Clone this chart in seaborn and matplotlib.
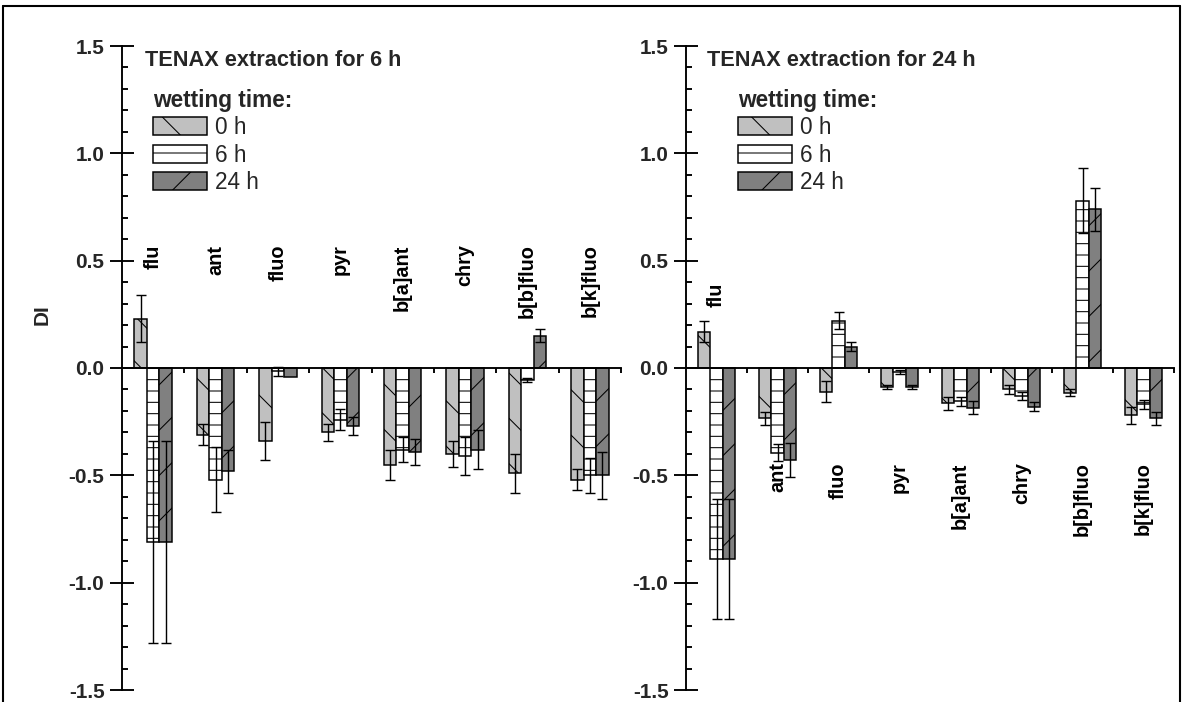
import numpy as np
import pandas as pd
import matplotlib
matplotlib.use("Agg")
import matplotlib.pyplot as plt
import seaborn as sns
from matplotlib.ticker import MultipleLocator, FuncFormatter, NullFormatter
from matplotlib.patches import Patch
from matplotlib.lines import Line2D
from matplotlib.container import BarContainer

# ---- data -------------------------------------------------------------
compounds = ["flu", "ant", "fluo", "pyr", "b[a]ant", "chry", "b[b]fluo", "b[k]fluo"]
wetting = ["0 h", "6 h", "24 h"]

# TENAX extraction for 6 h: DI and error per wetting time
di_6h_w0 = [0.23, -0.31, -0.34, -0.30, -0.45, -0.40, -0.49, -0.52]
di_6h_w6 = [-0.81, -0.52, -0.015, -0.24, -0.38, -0.41, -0.055, -0.50]
di_6h_w24 = [-0.81, -0.48, -0.04, -0.27, -0.39, -0.38, 0.15, -0.50]
err_6h_w0 = [0.11, 0.05, 0.09, 0.04, 0.07, 0.06, 0.09, 0.05]
err_6h_w6 = [0.47, 0.15, 0.02, 0.05, 0.06, 0.09, 0.01, 0.08]
err_6h_w24 = [0.47, 0.10, 0.0, 0.04, 0.06, 0.09, 0.03, 0.11]

# TENAX extraction for 24 h
di_24h_w0 = [0.17, -0.235, -0.11, -0.09, -0.165, -0.10, -0.115, -0.22]
di_24h_w6 = [-0.89, -0.395, 0.22, -0.02, -0.155, -0.13, 0.78, -0.17]
di_24h_w24 = [-0.89, -0.43, 0.10, -0.09, -0.185, -0.18, 0.74, -0.235]
err_24h_w0 = [0.05, 0.03, 0.05, 0.01, 0.03, 0.02, 0.015, 0.04]
err_24h_w6 = [0.28, 0.04, 0.04, 0.01, 0.02, 0.02, 0.15, 0.02]
err_24h_w24 = [0.28, 0.08, 0.02, 0.01, 0.03, 0.02, 0.10, 0.03]

panel_titles = ["TENAX extraction for 6 h", "TENAX extraction for 24 h"]

# ---- style ------------------------------------------------------------
DPI = 136
W, H = 1183, 702
sns.set_theme(style="white")
plt.rcParams["font.family"] = ["Liberation Sans", "DejaVu Sans"]
plt.rcParams["hatch.linewidth"] = 0.55
plt.rcParams["axes.unicode_minus"] = False

fills = ["#c0c0c0", "#ffffff", "#808080"]
hatches = ["\\", "--", "/"]

fig = plt.figure(figsize=(W / DPI, H / DPI), dpi=DPI)
fig.patch.set_facecolor("white")


def fx(px):
    return px / W


def fy(py):
    return 1 - py / H


ax_left = fig.add_axes([fx(122), fy(690), fx(621) - fx(122), fy(46) - fy(690)])
ax_right = fig.add_axes([fx(686), fy(690), fx(1174) - fx(686), fy(46) - fy(690)])

panels = [
    (ax_left, [di_6h_w0, di_6h_w6, di_6h_w24], [err_6h_w0, err_6h_w6, err_6h_w24],
     122, 499, 145, 153),
    (ax_right, [di_24h_w0, di_24h_w6, di_24h_w24], [err_24h_w0, err_24h_w6, err_24h_w24],
     686, 488, 707, 738),
]

for k, (ax, vals, errs, ax_x0, ax_w, title_px, legend_px) in enumerate(panels):
    df = pd.DataFrame({
        "compound": compounds * 3,
        "wetting": np.repeat(wetting, len(compounds)),
        "DI": np.concatenate(vals),
    })
    sns.barplot(data=df, x="compound", y="DI", hue="wetting",
                order=compounds, hue_order=wetting, palette=fills,
                width=0.6, errorbar=None, saturation=1, legend=False,
                edgecolor="black", linewidth=0.8, ax=ax)

    bar_groups = [c for c in ax.containers if isinstance(c, BarContainer)]
    for i, cont in enumerate(bar_groups):
        xs, ys, es = [], [], []
        for j, bar in enumerate(cont.patches):
            bar.set_hatch(hatches[i])
            bar.set_zorder(2)
            if errs[i][j] > 0:
                xs.append(bar.get_x() + bar.get_width() / 2)
                ys.append(vals[i][j])
                es.append(errs[i][j])
        ax.errorbar(xs, ys, yerr=es, fmt="none", ecolor="black",
                    elinewidth=0.75, capsize=2.6, capthick=0.75, zorder=3)

    ax.set_xlim(-0.5, len(compounds) - 0.5)
    ax.set_ylim(-1.5, 1.5)
    ax.set_facecolor("none")

    # axes: y spine at left, x spine through zero
    for s in ["top", "right"]:
        ax.spines[s].set_visible(False)
    ax.spines["bottom"].set_position(("data", 0))
    for s in ["left", "bottom"]:
        ax.spines[s].set_linewidth(1.0)
        ax.spines[s].set_color("black")
        ax.spines[s].set_zorder(4)

    ax.set_xticks(np.arange(0.5, len(compounds), 1.0))
    ax.xaxis.set_major_formatter(NullFormatter())
    ax.tick_params(axis="x", direction="out", length=2.8, width=1.0, color="black",
                   bottom=True)
    ax.yaxis.set_major_locator(MultipleLocator(0.5))
    ax.yaxis.set_minor_locator(MultipleLocator(0.1))
    ax.yaxis.set_major_formatter(
        FuncFormatter(lambda v, p: "0.0" if abs(v) < 1e-9 else f"{v:.1f}"))
    ax.tick_params(axis="y", which="major", direction="inout", length=12.2, width=1.0,
                   pad=3.2, labelsize=11, color="black", left=True)
    ax.tick_params(axis="y", which="minor", direction="in", length=3.2, width=1.0,
                   color="black", left=True)
    for lab in ax.get_yticklabels():
        lab.set_fontweight("bold")
    ax.set_xlabel("")
    ax.set_ylabel("")

    # compound names
    for j, name in enumerate(compounds):
        if k == 0:
            y_top = 0.575
        else:
            y_top = 0.40 if j == 0 else -0.44
        ax.text(j, y_top, name, rotation=90, ha="center", va="top",
                fontsize=10.5, fontweight="bold", color="black")

    # panel heading
    ax.text((title_px - ax_x0) / ax_w, (690 - 60.5) / 644, panel_titles[k],
            transform=ax.transAxes, ha="left", va="center",
            fontsize=11.5, fontweight="bold")

    handles = [Patch(facecolor=fills[i], edgecolor="black", hatch=hatches[i], linewidth=0.8)
               for i in range(3)]
    ax.legend(handles=handles, labels=wetting, title="wetting time:",
              loc="upper left", bbox_to_anchor=((legend_px - ax_x0) / ax_w, (690 - 89) / 644),
              frameon=False, fontsize=12, alignment="left",
              title_fontproperties={"weight": "bold", "size": 12},
              handlelength=2.38, handleheight=0.84, handletextpad=0.35,
              labelspacing=0.19, borderpad=0, borderaxespad=0)

fig.text(fx(42), fy(315), "DI", rotation=90, ha="center", va="center",
         fontsize=11, fontweight="bold")

# outer frame
for xs_, ys_ in [([fx(3), fx(1180)], [fy(6), fy(6)]),
                 ([fx(3), fx(3)], [fy(6), fy(702)]),
                 ([fx(1180), fx(1180)], [fy(6), fy(702)])]:
    fig.add_artist(Line2D(xs_, ys_, transform=fig.transFigure, color="black", lw=1.1))

fig.savefig("out.png", dpi=DPI, facecolor="white")
